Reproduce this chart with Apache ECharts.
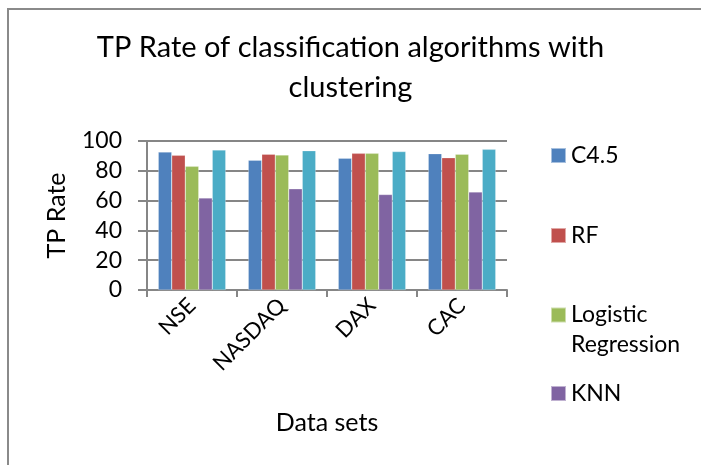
<!DOCTYPE html>
<html>
<head>
<meta charset="utf-8">
<script src="https://cdn.jsdelivr.net/npm/echarts@6/dist/echarts.min.js"></script>
<style>html,body{margin:0;padding:0;background:#fff;}#c{width:701px;height:465px;}</style>
</head>
<body>
<div id="c"></div>
<script>
var categories = ['NSE', 'NASDAQ', 'DAX', 'CAC'];
var seriesNames = ['C4.5', 'RF', 'Logistic Regression', 'KNN', 'Series5'];
var c45 = [92.6, 87.1, 88.4, 91.5];
var rf = [90.4, 91.1, 91.7, 88.8];
var logistic = [83.0, 90.6, 91.7, 91.1];
var knn = [61.8, 67.9, 64.1, 65.8];
var series5 = [94.0, 93.5, 92.9, 94.4];
var yTicks = [0, 20, 40, 60, 80, 100];

var colors = ['#4F81BD', '#C0504D', '#9BBB59', '#8064A2', '#4BACC6'];
var values = [c45, rf, logistic, knn, series5];
var font = 'Lato';

var chart = echarts.init(document.getElementById('c'), null, {renderer: 'canvas'});

function legendAt(name, top, extra) {
  var l = {
    show: true,
    orient: 'vertical',
    left: 550,
    top: top,
    data: [name],
    itemWidth: 15,
    itemHeight: 15,
    icon: 'rect',
    itemGap: 0,
    padding: 0,
    selectedMode: false,
    textStyle: {fontFamily: font, fontSize: 23, color: '#000'}
  };
  if (extra) { for (var k in extra) l[k] = extra[k]; }
  return l;
}

var option = {
  backgroundColor: '#fff',
  animation: false,
  color: colors,
  title: {
    text: 'TP Rate of classification algorithms with\nclustering',
    left: 'center',
    top: 23,
    textStyle: {fontFamily: font, fontSize: 29, fontWeight: 'normal', color: '#000', lineHeight: 40}
  },
  legend: [
    legendAt('C4.5', 144),
    legendAt('RF', 224),
    legendAt('Logistic Regression', 270, {
      formatter: function () { return ' \nLogistic\nRegression'; },
      textStyle: {fontFamily: font, fontSize: 23, color: '#000', lineHeight: 30}
    }),
    legendAt('KNN', 382)
  ],
  grid: {left: 147, right: 194, top: 141, bottom: 175, containLabel: false},
  xAxis: {
    type: 'category',
    data: categories,
    name: 'Data sets',
    nameLocation: 'middle',
    nameGap: 120,
    nameTextStyle: {fontFamily: font, fontSize: 25, color: '#000'},
    axisLine: {show: true, lineStyle: {color: '#868686', width: 2}},
    axisTick: {show: true, length: 7, lineStyle: {color: '#868686', width: 2}},
    axisLabel: {rotate: 45, fontFamily: font, fontSize: 22, color: '#000', margin: 12, interval: 0}
  },
  yAxis: {
    type: 'value',
    min: 0,
    max: 100,
    interval: 20,
    name: 'TP Rate',
    nameLocation: 'middle',
    nameRotate: 90,
    nameGap: 78,
    nameTextStyle: {fontFamily: font, fontSize: 25, color: '#000'},
    axisLine: {show: true, lineStyle: {color: '#868686', width: 2}},
    axisTick: {show: true, length: 9, inside: false, lineStyle: {color: '#868686', width: 2}},
    axisLabel: {fontFamily: font, fontSize: 23, color: '#000', margin: 25,
      formatter: function (v) { return yTicks.indexOf(v) >= 0 ? String(v) : ''; }},
    splitLine: {show: true, lineStyle: {color: '#868686', width: 2}}
  },
  graphic: [{
    type: 'line',
    shape: {x1: 8, y1: 9, x2: 720, y2: 9},
    style: {stroke: '#8a8a8a', lineWidth: 2},
    silent: true
  }, {
    type: 'line',
    shape: {x1: 8, y1: 8, x2: 8, y2: 480},
    style: {stroke: '#8a8a8a', lineWidth: 2},
    silent: true
  }],
  series: seriesNames.map(function (n, i) {
    return {
      name: n,
      type: 'bar',
      data: values[i],
      barGap: '0%',
      barCategoryGap: '25%',
      itemStyle: {color: colors[i], borderColor: 'rgba(255,255,255,0.5)', borderWidth: 0.5}
    };
  })
};
chart.setOption(option);
</script>
</body>
</html>
